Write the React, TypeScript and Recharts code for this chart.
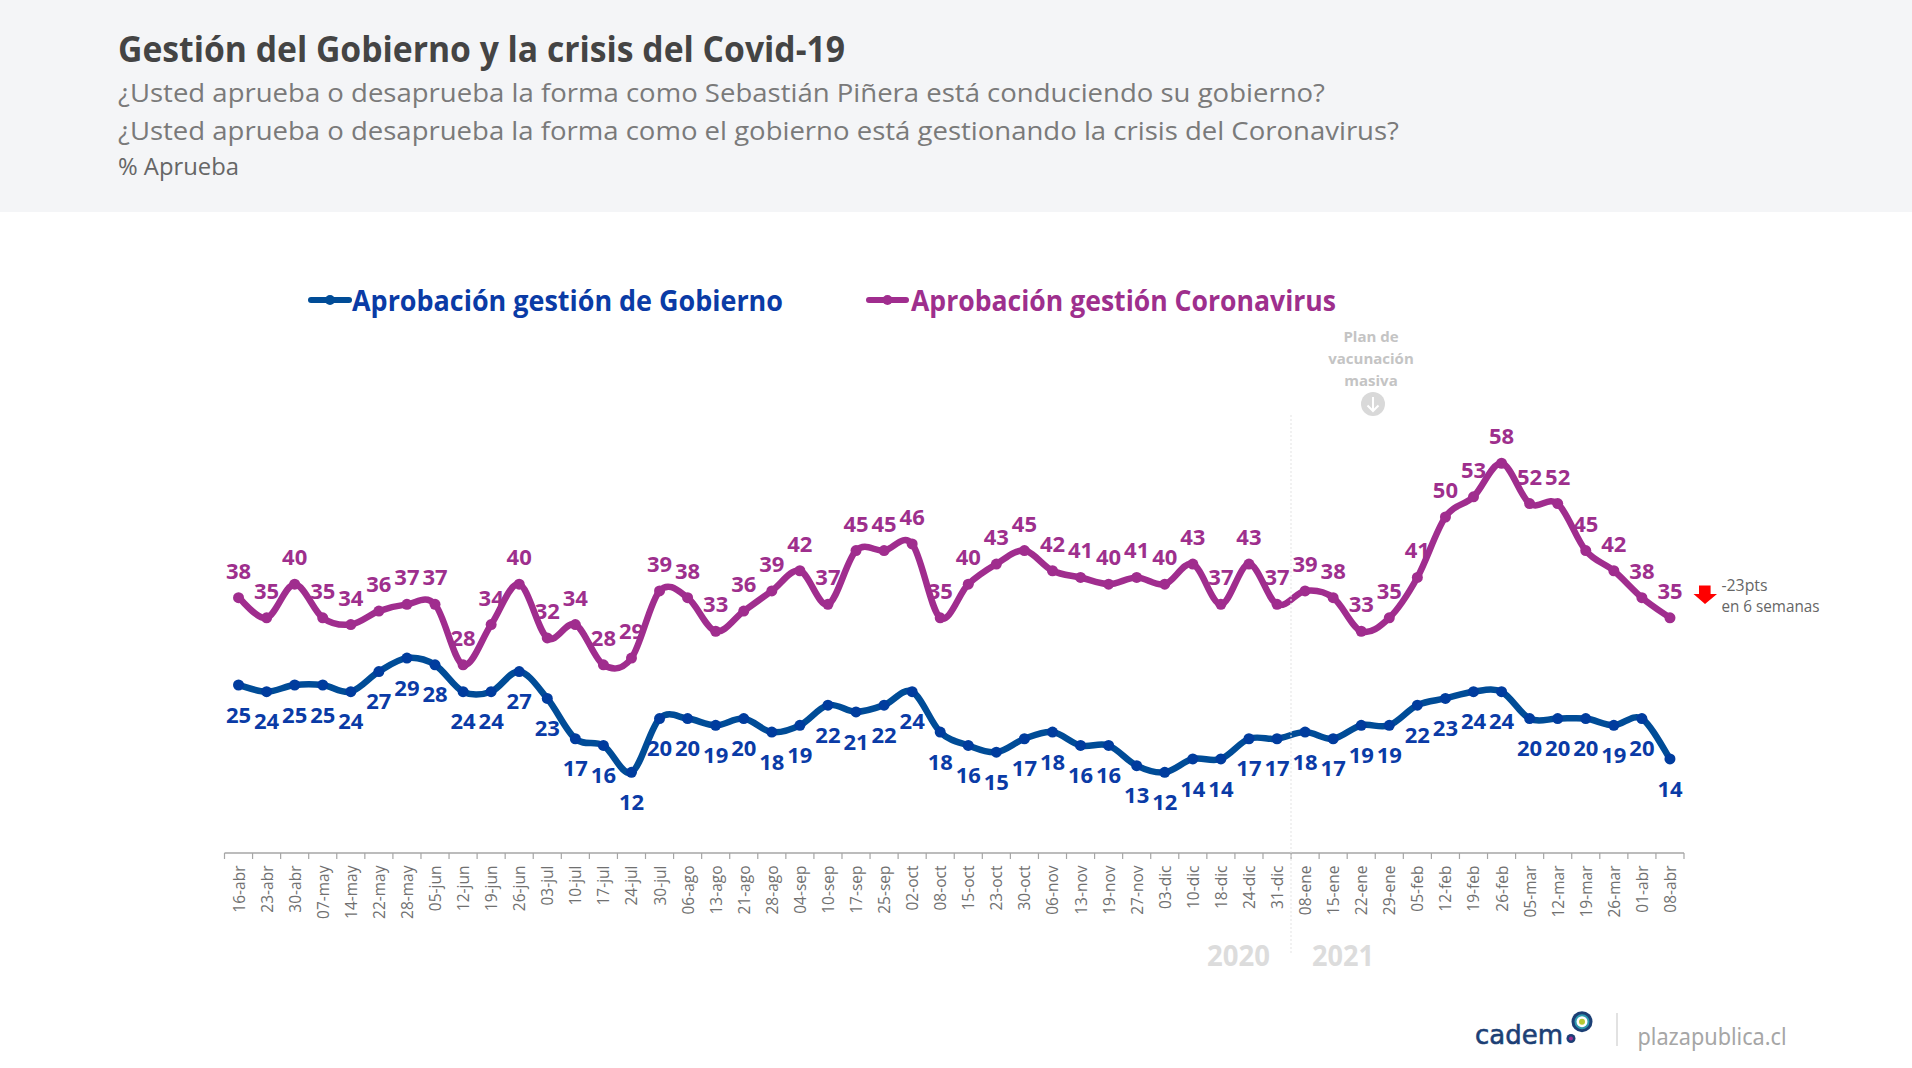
import React from 'react';
import { LineChart, Line, XAxis, YAxis, LabelList, Legend } from 'recharts';

const W = 1912;
const H = 1068;
const FONT = '"Open Sans", "Noto Sans", sans-serif';

const categories = ['16-abr','23-abr','30-abr','07-may','14-may','22-may','28-may','05-jun','12-jun','19-jun','26-jun','03-jul','10-jul','17-jul','24-jul','30-jul','06-ago','13-ago','21-ago','28-ago','04-sep','10-sep','17-sep','25-sep','02-oct','08-oct','15-oct','23-oct','30-oct','06-nov','13-nov','19-nov','27-nov','03-dic','10-dic','18-dic','24-dic','31-dic','08-ene','15-ene','22-ene','29-ene','05-feb','12-feb','19-feb','26-feb','05-mar','12-mar','19-mar','26-mar','01-abr','08-abr'];
const gobierno = [25,24,25,25,24,27,29,28,24,24,27,23,17,16,12,20,20,19,20,18,19,22,21,22,24,18,16,15,17,18,16,16,13,12,14,14,17,17,18,17,19,19,22,23,24,24,20,20,20,19,20,14];
const coronavirus = [38,35,40,35,34,36,37,37,28,34,40,32,34,28,29,39,38,33,36,39,42,37,45,45,46,35,40,43,45,42,41,40,41,40,43,37,43,37,39,38,33,35,41,50,53,58,52,52,45,42,38,35];

const GOB_NAME = 'Aprobación gestión de Gobierno';
const COV_NAME = 'Aprobación gestión Coronavirus';
const GOB_LINE = '#004C97';
const GOB_TEXT = '#0A3BA6';
const COV_LINE = '#A02D8E';
const COV_TEXT = '#9E2F8D';

const data = categories.map((c, i) => ({ c, gob: gobierno[i], cov: coronavirus[i] }));

const PLOT_L = 224.5;
const PLOT_R = 1684;
const PLOT_T = 382.6;
const PLOT_B = 853;
const HALF_BAND = (PLOT_R - PLOT_L) / categories.length / 2;

// Excel-like smoothed line (Catmull-Rom spline)
function smoothCurve(context: any) {
  let pts: [number, number][] = [];
  return {
    areaStart() {},
    areaEnd() {},
    lineStart() { pts = []; },
    point(x: number, y: number) { pts.push([+x, +y]); },
    lineEnd() {
      const n = pts.length;
      if (!n) return;
      context.moveTo(pts[0][0], pts[0][1]);
      for (let i = 0; i < n - 1; i++) {
        const p0 = pts[Math.max(i - 1, 0)];
        const p1 = pts[i];
        const p2 = pts[i + 1];
        const p3 = pts[Math.min(i + 2, n - 1)];
        context.bezierCurveTo(
          p1[0] + (p2[0] - p0[0]) / 6, p1[1] + (p2[1] - p0[1]) / 6,
          p2[0] - (p3[0] - p1[0]) / 6, p2[1] - (p3[1] - p1[1]) / 6,
          p2[0], p2[1]
        );
      }
    },
  };
}

function DateTick(props: any) {
  const { x, payload, index } = props;
  const isLast = index === categories.length - 1;
  return (
    <g>
      <line x1={x - HALF_BAND} x2={x - HALF_BAND} y1={PLOT_B} y2={PLOT_B + 6} stroke="#a6a6a6" strokeWidth={1.2} />
      {isLast && <line x1={x + HALF_BAND} x2={x + HALF_BAND} y1={PLOT_B} y2={PLOT_B + 6} stroke="#a6a6a6" strokeWidth={1.2} />}
      <text
        transform={`rotate(-90 ${x} ${PLOT_B + 12.5})`}
        x={x}
        y={PLOT_B + 12.5}
        textAnchor="end"
        dominantBaseline="central"
        fontFamily={FONT}
        fontSize={15.5}
        fill="#707070"
      >
        {payload.value}
      </text>
    </g>
  );
}

function LegendContent() {
  const items = [
    { name: GOB_NAME, line: GOB_LINE, text: GOB_TEXT, x1: 311, x2: 349, tx: 352, len: 431 },
    { name: COV_NAME, line: COV_LINE, text: COV_TEXT, x1: 869, x2: 906, tx: 911, len: 425 },
  ];
  return (
    <svg width={W} height={40} style={{ display: 'block', overflow: 'visible' }}>
      {items.map((it) => (
        <g key={it.name}>
          <line x1={it.x1} x2={it.x2} y1={20} y2={20} stroke={it.line} strokeWidth={6} strokeLinecap="round" />
          <circle cx={(it.x1 + it.x2) / 2} cy={20} r={5} fill={it.line} />
          <text x={it.tx} y={31} fontFamily={FONT} fontWeight={700} fontSize={28} fill={it.text} textLength={it.len} lengthAdjust="spacingAndGlyphs">
            {it.name}
          </text>
        </g>
      ))}
    </svg>
  );
}

function Overlay() {
  const fit = { lengthAdjust: 'spacingAndGlyphs' as const };
  return (
    <svg width={W} height={H} style={{ position: 'absolute', left: 0, top: 0, pointerEvents: 'none' }}>
      <text x={118} y={62} fontFamily={FONT} fontWeight={700} fontSize={36} fill="#444444" textLength={727} {...fit}>Gestión del Gobierno y la crisis del Covid-19</text>
      <text x={118} y={102} fontFamily={FONT} fontSize={26} fill="#7a7a7a" textLength={1207} {...fit}>¿Usted aprueba o desaprueba la forma como Sebastián Piñera está conduciendo su gobierno?</text>
      <text x={118} y={140} fontFamily={FONT} fontSize={26} fill="#7a7a7a" textLength={1281} {...fit}>¿Usted aprueba o desaprueba la forma como el gobierno está gestionando la crisis del Coronavirus?</text>
      <text x={118} y={175} fontFamily={FONT} fontSize={24} fill="#666666" textLength={121} {...fit}>% Aprueba</text>

      <line x1={1291} x2={1291} y1={415} y2={955} stroke="#e3e3e3" strokeWidth={1} strokeDasharray="2 2" />

      <text x={1207} y={966} fontFamily={FONT} fontWeight={700} fontSize={28} fill="#dcdcdc" textLength={63} {...fit}>2020</text>
      <text x={1312} y={966} fontFamily={FONT} fontWeight={700} fontSize={28} fill="#dcdcdc" textLength={62} {...fit}>2021</text>

      <g fontFamily={FONT} fontWeight={700} fontSize={15} fill="#c4c4c4" textAnchor="middle">
        <text x={1371} y={342}>Plan de</text>
        <text x={1371} y={364}>vacunación</text>
        <text x={1371} y={386}>masiva</text>
      </g>
      <circle cx={1373} cy={404} r={12} fill="#d9d9d9" />
      <path d="M1373 397 V411 M1367.5 405.5 L1373 411 L1378.5 405.5" fill="none" stroke="#ffffff" strokeWidth={2} />

      <path d="M1699 585.5 H1710.6 V594 H1717 L1705 604 L1693.5 594 H1699 Z" fill="#FF0000" />
      <g fontFamily={FONT} fontSize={16} fill="#666666">
        <text x={1721.5} y={591} textLength={46} {...fit}>-23pts</text>
        <text x={1721.5} y={612} textLength={98} {...fit}>en 6 semanas</text>
      </g>

      <text x={1475} y={1043.5} fontFamily='"DejaVu Sans", sans-serif' fontSize={27} fill="#1C3F75" stroke="#1C3F75" strokeWidth={0.6} textLength={88} {...fit}>cadem</text>
      <circle cx={1571} cy={1038.5} r={4.5} fill="#1C3F75" />
      <circle cx={1571} cy={1038.5} r={2} fill="#A02D8E" />
      <circle cx={1582} cy={1021.7} r={10.5} fill="#1C3F75" />
      <circle cx={1582} cy={1021.7} r={7.5} fill="#2E9AB0" />
      <circle cx={1582} cy={1021.7} r={5.5} fill="#ffffff" />
      <circle cx={1582} cy={1021.7} r={3} fill="#B5C934" />
      <line x1={1617} x2={1617} y1={1013} y2={1046} stroke="#d9d9d9" strokeWidth={1.5} />
      <text x={1637.5} y={1045} fontFamily='"Noto Sans", sans-serif' fontSize={24} fill="#a6a6a6" textLength={149} {...fit}>plazapublica.cl</text>
    </svg>
  );
}

export default function App() {
  return (
    <div style={{ position: 'absolute', left: 0, top: 0, width: W, height: H, background: '#ffffff', overflow: 'hidden' }}>
      <div style={{ position: 'absolute', left: 0, top: 0, width: W, height: 212, background: '#F4F5F7' }} />
      <div style={{ position: 'absolute', left: 0, top: 0 }}>
        <LineChart
          width={W}
          height={H}
          data={data}
          margin={{ top: PLOT_T, left: PLOT_L, right: W - PLOT_R, bottom: H - PLOT_B - 80 }}
        >
          <XAxis
            dataKey="c"
            interval={0}
            height={80}
            padding={{ left: HALF_BAND, right: HALF_BAND }}
            axisLine={{ stroke: '#a6a6a6', strokeWidth: 1.5 }}
            tickLine={false}
            tick={<DateTick />}
          />
          <YAxis hide domain={[0, 70]} />
          <Legend
            layout="horizontal"
            verticalAlign="middle"
            align="center"
            wrapperStyle={{ left: 0, top: 280, width: W }}
            content={<LegendContent />}
          />
          <Line
            dataKey="cov"
            name={COV_NAME}
            type={smoothCurve as any}
            stroke={COV_LINE}
            strokeWidth={6.5}
            dot={{ r: 5.5, fill: COV_LINE, stroke: 'none' }}
            isAnimationActive={false}
          >
            <LabelList dataKey="cov" position="top" offset={19} fill={COV_TEXT} fontFamily={FONT} fontWeight={700} fontSize={22} />
          </Line>
          <Line
            dataKey="gob"
            name={GOB_NAME}
            type={smoothCurve as any}
            stroke={GOB_LINE}
            strokeWidth={6.5}
            dot={{ r: 5.5, fill: '#003C9E', stroke: 'none' }}
            isAnimationActive={false}
          >
            <LabelList dataKey="gob" position="bottom" offset={22} fill={GOB_TEXT} fontFamily={FONT} fontWeight={700} fontSize={22} />
          </Line>
        </LineChart>
      </div>
      <Overlay />
    </div>
  );
}
